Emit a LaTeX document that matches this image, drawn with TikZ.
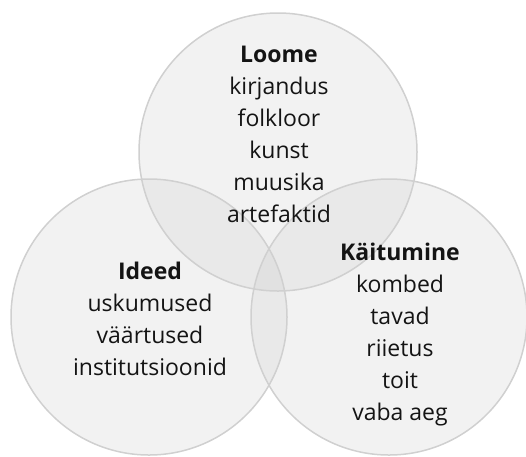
\documentclass[tikz,border=0pt]{standalone}
\usepackage{fontspec}
\setmainfont{Open Sans}
\definecolor{ringline}{HTML}{D0D0D0}
\definecolor{ringfill}{HTML}{CCCCCC}
\begin{document}
\begin{tikzpicture}[x=1pt,y=-1pt,
  ring/.style={fill=ringfill,fill opacity=0.25,draw=none},
  ringedge/.style={draw=ringline,line width=1.5pt},
  lbl/.style={align=center,font=\fontsize{23}{32}\selectfont,text=black!92,inner sep=0pt,anchor=base}]
\useasboundingbox (0,0) rectangle (526,456);
\coordinate (ct) at (278,152);
\coordinate (cl) at (149,317);
\coordinate (cr) at (389,317);
\fill[ring] (ct) circle (139);
\fill[ring] (cl) circle (138);
\fill[ring] (cr) circle (138);
\draw[ringedge] (ct) circle (139);
\draw[ringedge] (cl) circle (138);
\draw[ringedge] (cr) circle (138);
\node[lbl] (loome) at (279,222) {\textbf{Loome}\\kirjandus\\folkloor\\kunst\\muusika\\artefaktid};
\node[lbl] (ideed) at (150,375) {\textbf{Ideed}\\uskumused\\väärtused\\institutsioonid};
\node[lbl] (kait) at (400,420) {\textbf{Käitumine}\\kombed\\tavad\\riietus\\toit\\vaba aeg};
\end{tikzpicture}
\end{document}
